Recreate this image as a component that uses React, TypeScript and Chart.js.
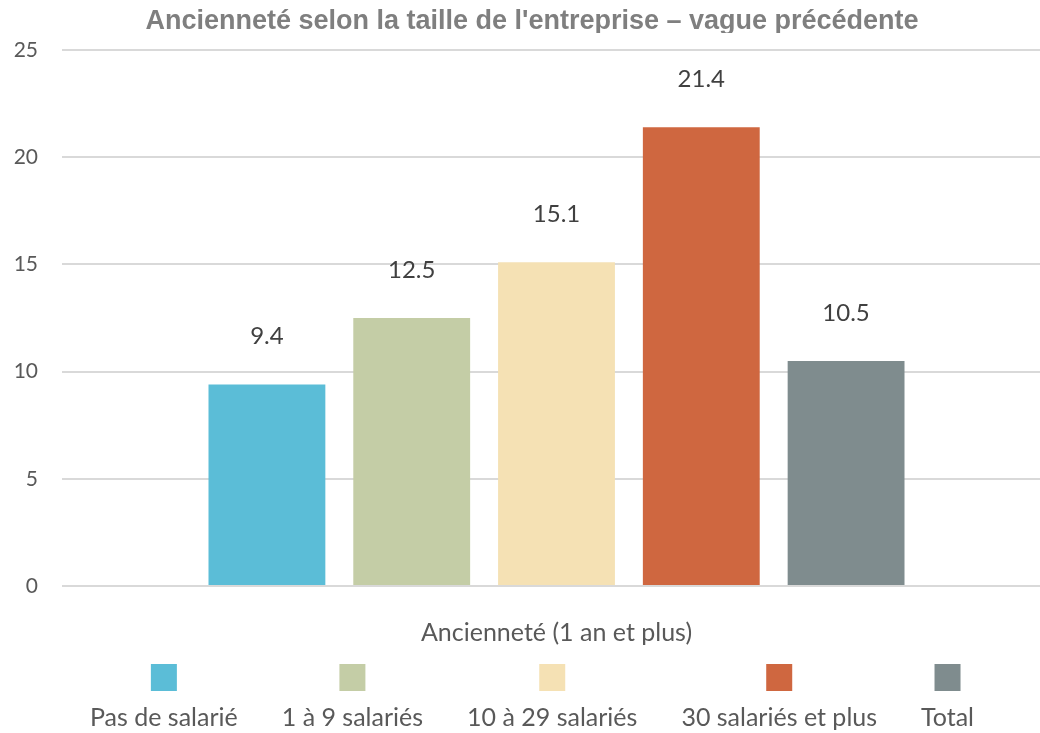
import React, { useEffect, useRef } from "react";
import { Chart, registerables } from "chart.js";

Chart.register(...registerables);

const TITLE = "Ancienneté selon la taille de l'entreprise – vague précédente";
const CATEGORIES = ["Ancienneté (1 an et plus)"];
const SERIES_LABELS = ["Pas de salarié", "1 à 9 salariés", "10 à 29 salariés", "30 salariés et plus", "Total"];
const SERIES_VALUES = [9.4, 12.5, 15.1, 21.4, 10.5];
const SERIES_COLORS = ["#5bbdd7", "#c4cda6", "#f5e1b4", "#cf6740", "#7f8c8e"];
const Y_MIN = 0;
const Y_MAX = 25;
const Y_STEP = 5;

const FONT_LABEL = "Lato, 'Open Sans', sans-serif";

const titlePlugin = {
  id: "customTitle",
  afterDraw(chart: any) {
    const ctx = chart.ctx;
    ctx.save();
    ctx.beginPath();
    ctx.rect(0, 0, chart.width, 33);
    ctx.clip();
    ctx.font = "bold 27px 'Liberation Sans', Arial, sans-serif";
    ctx.fillStyle = "#7f7f7f";
    ctx.textAlign = "center";
    ctx.textBaseline = "alphabetic";
    ctx.fillText(TITLE, chart.width / 2, 29);
    ctx.restore();
  },
};

const valueLabelPlugin = {
  id: "valueLabels",
  afterDatasetsDraw(chart: any) {
    const ctx = chart.ctx;
    ctx.save();
    ctx.font = `24px ${FONT_LABEL}`;
    ctx.fillStyle = "#404040";
    ctx.textAlign = "center";
    ctx.textBaseline = "middle";
    chart.data.datasets.forEach((ds: any, i: number) => {
      const meta = chart.getDatasetMeta(i);
      meta.data.forEach((el: any, j: number) => {
        const v = ds.data[j];
        ctx.fillText(v.toFixed(1), el.x, el.y - 48);
      });
    });
    ctx.restore();
  },
};

const legendPlugin = {
  id: "bottomLegend",
  afterDraw(chart: any) {
    const ctx = chart.ctx;
    ctx.save();
    ctx.font = `25px ${FONT_LABEL}`;
    const gap = 44;
    const ds = chart.data.datasets;
    const widths = ds.map((d: any) => ctx.measureText(d.label).width);
    const total = widths.reduce((a: number, b: number) => a + b, 0) + gap * (ds.length - 1);
    let x = chart.width / 2 - total / 2;
    ctx.textAlign = "center";
    ctx.textBaseline = "alphabetic";
    ds.forEach((d: any, i: number) => {
      const cx = x + widths[i] / 2;
      ctx.fillStyle = d.backgroundColor;
      ctx.fillRect(cx - 13, 664, 26, 27);
      ctx.fillStyle = "#595959";
      ctx.fillText(d.label, cx, 726);
      x += widths[i] + gap;
    });
    ctx.restore();
  },
};

export default function App() {
  const ref = useRef<HTMLCanvasElement | null>(null);

  useEffect(() => {
    document.body.style.overflow = "hidden";
    const canvas = ref.current;
    if (!canvas) return;
    const chart = new Chart(canvas, {
      type: "bar",
      data: {
        labels: CATEGORIES,
        datasets: SERIES_LABELS.map((label, i) => ({
          label,
          data: [SERIES_VALUES[i]],
          backgroundColor: SERIES_COLORS[i],
          borderWidth: 0,
          barPercentage: 0.807,
          categoryPercentage: 0.732,
        })),
      },
      options: {
        animation: false,
        responsive: false,
        devicePixelRatio: 1,
        layout: { padding: { top: 50, right: 13, bottom: 0, left: 0 } },
        plugins: {
          legend: { display: false },
          title: { display: false },
          tooltip: { enabled: false },
        },
        scales: {
          x: {
            grid: { display: false },
            border: { display: false },
            ticks: {
              font: { family: FONT_LABEL, size: 25 },
              color: "#595959",
              padding: 24,
              maxRotation: 0,
            },
            afterFit(scale: any) {
              scale.height = 147;
            },
          },
          y: {
            min: Y_MIN,
            max: Y_MAX,
            border: { display: false },
            grid: { color: "#d9d9d9", lineWidth: 2, drawTicks: false },
            ticks: {
              stepSize: Y_STEP,
              font: { family: FONT_LABEL, size: 21 },
              color: "#595959",
              padding: 24,
            },
            afterFit(scale: any) {
              scale.width = 62;
            },
          },
        },
      },
      plugins: [titlePlugin, valueLabelPlugin, legendPlugin],
    });
    return () => chart.destroy();
  }, []);

  return (
    <div style={{ position: "fixed", left: 0, top: 0, width: 1064, height: 733, background: "#fff" }}>
      <canvas ref={ref} width={1064} height={733} style={{ display: "block" }} />
    </div>
  );
}
